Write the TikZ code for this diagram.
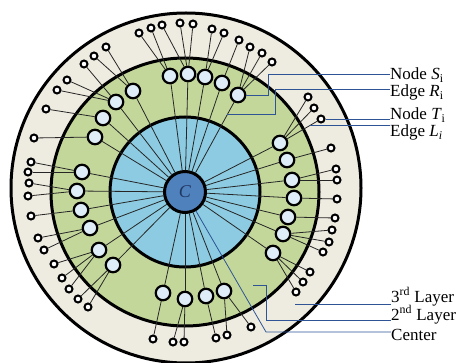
\documentclass[tikz,border=0pt]{standalone}
\usepackage{fontspec}
\setmainfont{Liberation Serif}
\usetikzlibrary{calc}

\definecolor{layerthree}{RGB}{238,235,224}
\definecolor{layertwo}{RGB}{196,215,155}
\definecolor{layerone}{RGB}{140,203,225}
\definecolor{centerblue}{RGB}{79,129,189}
\definecolor{centertext}{RGB}{31,56,100}
\definecolor{nodeblue}{RGB}{222,237,247}
\definecolor{leaderblue}{RGB}{46,84,150}

\begin{document}
\begin{tikzpicture}[x=1pt,y=-1pt,
    snode/.style={circle,draw,line width=2.2pt,fill=nodeblue,minimum size=14.5pt,inner sep=0pt},
    tnode/.style={circle,draw,line width=2pt,fill=white,minimum size=7pt,inner sep=0pt},
    leader/.style={draw=leaderblue,line width=0.8pt},
    lbl/.style={anchor=base west,inner sep=0pt,font=\fontsize{17}{17}\selectfont}]

  \useasboundingbox (0,0) rectangle (460,363);

  % layers
  \filldraw[fill=layerthree,line width=3pt] (186,188) circle (175pt);
  \filldraw[fill=layertwo,line width=3pt] (185,192) circle (134pt);
  \filldraw[fill=layerone,line width=3pt] (185,192) circle (75pt);

  \node[circle,draw,line width=3pt,fill=centerblue,minimum size=41pt,inner sep=0pt,
        text=centertext,font=\fontsize{18}{18}\selectfont] (C) at (185,192) {\textit{C}};

  \begin{scope}[every node/.style={snode}]
    \node (s1)  at (170,76)  {};
    \node (s2)  at (188,74)  {};
    \node (s3)  at (205,77)  {};
    \node (s4)  at (222,83)  {};
    \node (s5)  at (238,95)  {};
    \node (s6)  at (280,143) {};
    \node (s7)  at (287,160) {};
    \node (s8)  at (292,180) {};
    \node (s9)  at (294,198) {};
    \node (s10) at (288,217) {};
    \node (s11) at (283,234) {};
    \node (s12) at (273,253) {};
    \node (s13) at (224,291) {};
    \node (s14) at (206,296) {};
    \node (s15) at (185,299) {};
    \node (s16) at (163,293) {};
    \node (s17) at (113,265) {};
    \node (s18) at (99,250)  {};
    \node (s19) at (90,228)  {};
    \node (s20) at (81,210)  {};
    \node (s21) at (77,191)  {};
    \node (s22) at (82,172)  {};
    \node (s23) at (95,137)  {};
    \node (s24) at (103,118) {};
    \node (s25) at (116,102) {};
    \node (s26) at (133,91)  {};
  \end{scope}

  \begin{scope}[every node/.style={tnode}]
    \node (t1)  at (139,33)  {};
    \node (t2)  at (151,28)  {};
    \node (t3)  at (162,25)  {};
    \node (t4)  at (180,23)  {};
    \node (t5)  at (193,24)  {};
    \node (t6)  at (212,29)  {};
    \node (t7)  at (224,33)  {};
    \node (t8)  at (239,40)  {};
    \node (t9)  at (250,47)  {};
    \node (t10) at (262,53)  {};
    \node (t11) at (272,62)  {};
    \node (t12) at (308,97)  {};
    \node (t13) at (314,108) {};
    \node (t14) at (321,119) {};
    \node (t15) at (331,148) {};
    \node (t16) at (336,169) {};
    \node (t17) at (337,180) {};
    \node (t18) at (337,199) {};
    \node (t19) at (335,218) {};
    \node (t20) at (332,230) {};
    \node (t21) at (329,242) {};
    \node (t22) at (323,252) {};
    \node (t23) at (310,272) {};
    \node (t24) at (303,282) {};
    \node (t25) at (296,292) {};
    \node (t26) at (251,327) {};
    \node (t27) at (227,335) {};
    \node (t28) at (216,338) {};
    \node (t29) at (184,342) {};
    \node (t30) at (173,342) {};
    \node (t31) at (153,339) {};
    \node (t32) at (88,307)  {};
    \node (t33) at (78,299)  {};
    \node (t34) at (69,289)  {};
    \node (t35) at (62,278)  {};
    \node (t36) at (54,264)  {};
    \node (t37) at (44,250)  {};
    \node (t38) at (38,238)  {};
    \node (t39) at (31,216)  {};
    \node (t40) at (28,196)  {};
    \node (t41) at (29,183)  {};
    \node (t42) at (28,172)  {};
    \node (t43) at (31,162)  {};
    \node (t44) at (34,138)  {};
    \node (t45) at (46,109)  {};
    \node (t46) at (57,90)   {};
    \node (t47) at (67,80)   {};
    \node (t48) at (84,64)   {};
    \node (t49) at (94,56)   {};
    \node (t50) at (106,47)  {};
  \end{scope}

  \begin{scope}[every edge/.style={draw,line width=0.8pt,black!85}]
    % center to second layer
    \path (C) edge (s1) edge (s2) edge (s3) edge (s4) edge (s5) edge (s6)
              edge (s7) edge (s8) edge (s9) edge (s10) edge (s11) edge (s12)
              edge (s13) edge (s14) edge (s15) edge (s16) edge (s17) edge (s18)
              edge (s19) edge (s20) edge (s21) edge (s22) edge (s23) edge (s24)
              edge (s25) edge (s26);
    % second layer to third layer
    \path (s1)  edge (t1) edge (t2);
    \path (s2)  edge (t3) edge (t4) edge (t5);
    \path (s3)  edge (t6) edge (t7);
    \path (s4)  edge (t8);
    \path (s5)  edge (t9) edge (t10) edge (t11);
    \path (s6)  edge (t12) edge (t13) edge (t14);
    \path (s7)  edge (t15);
    \path (s8)  edge (t16) edge (t17);
    \path (s9)  edge (t18);
    \path (s10) edge (t19);
    \path (s11) edge (t20) edge (t21) edge (t22);
    \path (s12) edge (t23) edge (t24) edge (t25);
    \path (s13) edge (t26) edge (t27);
    \path (s14) edge (t28);
    \path (s15) edge (t29) edge (t30);
    \path (s16) edge (t31);
    \path (s17) edge (t32) edge (t33);
    \path (s18) edge (t34) edge (t35) edge (t36);
    \path (s19) edge (t37) edge (t38);
    \path (s20) edge (t39);
    \path (s21) edge (t40) edge (t41);
    \path (s22) edge (t42) edge (t43);
    \path (s23) edge (t44);
    \path (s24) edge (t45);
    \path (s25) edge (t46) edge (t47) edge (t48);
    \path (s26) edge (t49) edge (t50);
  \end{scope}

  % labels
  \node[lbl] (lS) at (390,80)  {Node \textit{S}\textsubscript{i}};
  \node[lbl] (lR) at (390,97)  {Edge \textit{R}\textsubscript{i}};
  \node[lbl] (lT) at (390,120) {Node \textit{T}\textsubscript{i}};
  \node[lbl] (lL) at (390,137) {Edge \textit{L}\textsubscript{\textit{i}}};
  \node[lbl] (l3) at (391,302) {3\textsuperscript{rd} Layer};
  \node[lbl] (l2) at (391,320) {2\textsuperscript{nd} Layer};
  \node[lbl] (lC) at (391,340) {Center};

  \coordinate (eR) at ($(C)!0.8!(s5)$);
  \coordinate (eL) at ($(s6)!0.72!(t14)$);
  \coordinate (p3) at (295,304);
  \coordinate (p2) at (253,285);
  \coordinate (pC) at (266,332);

  \draw[leader] (s5.east) -- ++(22,0) |- ([yshift=6pt]lS.base west);
  \draw[leader] (eR) -- ++(48,0) |- ([yshift=8pt]lR.base west);
  \draw[leader] (t14.east) -- (t14.east -| lT.base west);
  \draw[leader] (eL) -- (eL -| lL.base west);
  \draw[leader] (p3) -- (p3 -| l3.base west);
  \draw[leader] (p2) -- ++(13,0) |- (l2.base west);
  \draw[leader] (C) -- (pC) -- (pC -| lC.base west);

\end{tikzpicture}
\end{document}
